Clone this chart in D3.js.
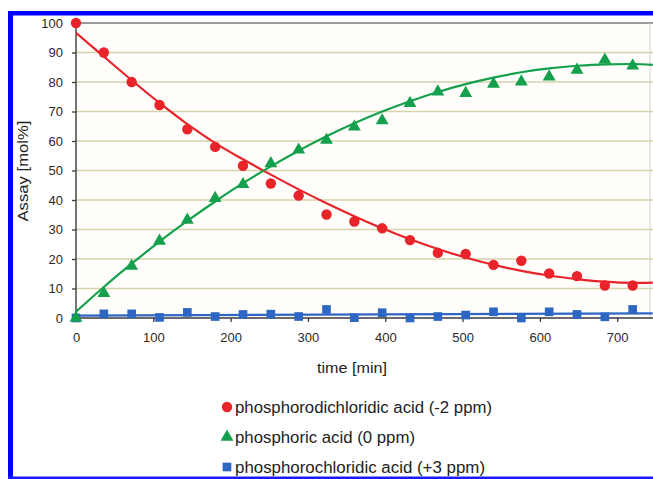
<!DOCTYPE html>
<html>
<head>
<meta charset="utf-8">
<script src="https://cdn.jsdelivr.net/npm/d3@7/dist/d3.min.js"></script>
<style>
  html, body { margin: 0; padding: 0; background: #ffffff; }
  svg { display: block; font-family: "Liberation Sans", Arial, sans-serif; }
</style>
</head>
<body>
<svg id="chart" width="653" height="479"></svg>
<script>
// Sampling times (min)
const times = [0, 36, 72, 108, 144, 180, 216, 252, 288, 324, 360, 396, 432, 468, 504, 540, 576, 612, 648, 684, 720];

// Measured assay values (mol%)
const dichloridic = [100, 90, 80, 72.2, 64, 58, 51.6, 45.6, 41.5, 35.1, 32.7, 30.4, 26.4, 22.1, 21.7, 18, 19.4, 15.1, 14.2, 11, 11];
const phosphoric  = [0, 8.4, 17.6, 26.1, 33.2, 40.6, 45.3, 52.4, 57, 60.3, 64.8, 66.9, 72.8, 76.7, 76.2, 79.3, 80.1, 81.8, 84.1, 87.5, 85.5];
const chloridic   = [0, 1.4, 1.4, 0.2, 1.9, 0.5, 1.2, 1.3, 0.5, 2.9, 0.1, 1.8, 0, 0.5, 1, 2.1, 0, 2.1, 1.2, 0.4, 2.9];

// Trendline values (mol%)
const trendTimes = [0, 36, 72, 108, 144, 180, 216, 252, 288, 324, 360, 396, 432, 468, 504, 540, 576, 612, 648, 684, 720, 746];
const dichloridicTrend = [96.7, 88.6, 80.6, 72.9, 65.7, 59.3, 53.8, 48.6, 43.6, 38.9, 34.5, 30.4, 26.7, 23.4, 20.5, 18.0, 16.0, 14.4, 13.2, 12.3, 11.9, 12.0];
const phosphoricTrend  = [2.1, 10.5, 18.4, 25.9, 32.9, 39.5, 45.7, 51.4, 56.7, 61.6, 66.0, 70.0, 73.5, 76.6, 79.3, 81.5, 83.3, 84.6, 85.5, 86.0, 86.1, 85.8];
const chloridicTrendTimes = [0, 746];
const chloridicTrend = [0.8, 1.6];

// Axis ticks
const xTicks = [0, 100, 200, 300, 400, 500, 600, 700];
const yTicks = [0, 10, 20, 30, 40, 50, 60, 70, 80, 90, 100];

const seriesNames = [
  "phosphorodichloridic acid (-2 ppm)",
  "phosphoric acid (0 ppm)",
  "phosphorochloridic acid (+3 ppm)"
];
const seriesColors = ["#e8232a", "#14a04c", "#2d66c3"];

const svg = d3.select("#chart");
const W = 653;

const x = d3.scaleLinear().domain([0, 745]).range([76, 652]);
const y = d3.scaleLinear().domain([0, 100]).range([318, 23]);

// Plot background
svg.append("rect")
  .attr("x", 76).attr("y", 23).attr("width", W - 76).attr("height", 295)
  .attr("fill", "#fffefa");

// Horizontal gridlines
svg.append("g").selectAll("line")
  .data(yTicks.filter(d => d > 0 && d < 100))
  .join("line")
  .attr("x1", 76).attr("x2", W)
  .attr("y1", d => y(d)).attr("y2", d => y(d))
  .attr("stroke", "#d8d1ad").attr("stroke-width", 1.3);

// Plot-area border (top and right)
svg.append("line").attr("x1", 76).attr("x2", W).attr("y1", y(100)).attr("y2", y(100))
  .attr("stroke", "#7a7a7a").attr("stroke-width", 1.3);
svg.append("line").attr("x1", 650).attr("x2", 650).attr("y1", y(100)).attr("y2", y(0))
  .attr("stroke", "#d0d0d0").attr("stroke-width", 1);

// Axes
const yAxis = d3.axisLeft(y).tickValues(yTicks).tickSize(4).tickPadding(9);
const gy = svg.append("g").attr("transform", "translate(76,0)").call(yAxis);
const xAxis = d3.axisBottom(x).tickValues(xTicks).tickSize(4).tickPadding(11);
const gx = svg.append("g").attr("transform", "translate(0,318)").call(xAxis);
[gx, gy].forEach(g => {
  g.select(".domain").attr("stroke", "#3a3a3a").attr("stroke-width", 1.4);
  g.selectAll(".tick line").attr("stroke", "#3a3a3a").attr("stroke-width", 1.3);
  g.selectAll(".tick text").attr("fill", "#2a2a2a").attr("font-size", 13)
    .attr("font-family", "'Liberation Sans', Arial, sans-serif");
});
gx.select(".domain").attr("d", `M76,0H${W}`);
gy.select(".domain").attr("d", "M0,23V318");

// Axis titles
svg.append("text").attr("x", 352).attr("y", 373).attr("text-anchor", "middle")
  .attr("font-size", 14.5).attr("fill", "#222")
  .attr("textLength", 70).attr("lengthAdjust", "spacingAndGlyphs")
  .text("time [min]");
svg.append("text").attr("transform", "translate(28,171) rotate(-90)").attr("text-anchor", "middle")
  .attr("font-size", 15).attr("fill", "#222")
  .attr("textLength", 101).attr("lengthAdjust", "spacingAndGlyphs")
  .text("Assay [mol%]");

// Clip for trendlines
svg.append("clipPath").attr("id", "plotclip")
  .append("rect").attr("x", 76).attr("y", 10).attr("width", W - 76).attr("height", 320);

const allSeries = [dichloridic, phosphoric, chloridic];
const trends = [
  trendTimes.map((t, k) => [t, dichloridicTrend[k]]),
  trendTimes.map((t, k) => [t, phosphoricTrend[k]]),
  chloridicTrendTimes.map((t, k) => [t, chloridicTrend[k]])
];
const lineGen = d3.line().x(d => x(d[0])).y(d => y(d[1])).curve(d3.curveMonotoneX);

// Trendlines
trends.forEach((pts, i) => {
  svg.append("path")
    .attr("clip-path", "url(#plotclip)")
    .attr("d", lineGen(pts))
    .attr("fill", "none")
    .attr("stroke", seriesColors[i])
    .attr("stroke-width", 2.2);
});

// Markers
const symbols = [d3.symbolCircle, d3.symbolTriangle, d3.symbolSquare];
const symSizes = [85, 72, 75];
// squares first so the other markers sit on top
[2, 1, 0].forEach(i => {
  svg.append("g").selectAll("path")
    .data(times.map((t, k) => [t, allSeries[i][k]]))
    .join("path")
    .attr("transform", d => `translate(${x(d[0])},${y(d[1])})`)
    .attr("d", d3.symbol().type(symbols[i]).size(symSizes[i]))
    .attr("fill", seriesColors[i]);
});

// Legend
const legendY = [407, 437, 467];
const legendLen = [257, 180, 250];
const lg = svg.append("g");
seriesNames.forEach((name, i) => {
  lg.append("path")
    .attr("transform", `translate(227,${legendY[i]})`)
    .attr("d", d3.symbol().type(symbols[i]).size(symSizes[i]))
    .attr("fill", seriesColors[i]);
  lg.append("text")
    .attr("x", 235).attr("y", legendY[i]).attr("dy", "0.36em")
    .attr("font-size", 16).attr("fill", "#222")
    .attr("textLength", legendLen[i]).attr("lengthAdjust", "spacingAndGlyphs")
    .text(name);
});

// Blue frame
svg.append("rect").attr("x", 8).attr("y", 11).attr("width", W - 8).attr("height", 4.5).attr("fill", "#0000ff");
svg.append("rect").attr("x", 8).attr("y", 11).attr("width", 5).attr("height", 468).attr("fill", "#0000ff");
svg.append("rect").attr("x", 8).attr("y", 476.5).attr("width", W - 8).attr("height", 2.5).attr("fill", "#1a1aff");
</script>
</body>
</html>
